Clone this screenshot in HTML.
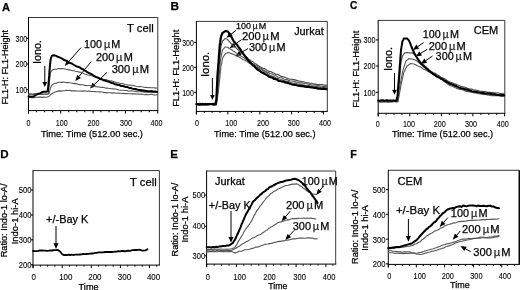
<!DOCTYPE html>
<html><head><meta charset="utf-8"><style>
html,body{margin:0;padding:0;background:#fff;}
body{width:520px;height:290px;overflow:hidden;}
svg{display:block;font-family:"Liberation Sans", sans-serif;}
text{filter:grayscale(1);stroke:#000;stroke-width:0.25px;}
text.t{stroke-width:0.1px;}
svg{filter:blur(0.3px);}
</style></head><body>
<svg width="520" height="290" viewBox="0 0 520 290">
<rect width="520" height="290" fill="#fff"/>
<text x="2.09" y="10.55" font-size="11.07" textLength="8.00" lengthAdjust="spacingAndGlyphs" font-weight="bold" fill="#000">A</text>
<text x="170.61" y="9.80" font-size="11.81" textLength="8.53" lengthAdjust="spacingAndGlyphs" font-weight="bold" fill="#000">B</text>
<text x="349.89" y="9.00" font-size="10.09" textLength="7.29" lengthAdjust="spacingAndGlyphs" font-weight="bold" fill="#000">C</text>
<text x="0.33" y="158.10" font-size="11.58" textLength="8.36" lengthAdjust="spacingAndGlyphs" font-weight="bold" fill="#000">D</text>
<text x="170.32" y="158.10" font-size="11.59" textLength="7.73" lengthAdjust="spacingAndGlyphs" font-weight="bold" fill="#000">E</text>
<text x="350.37" y="157.90" font-size="10.84" textLength="6.62" lengthAdjust="spacingAndGlyphs" font-weight="bold" fill="#000">F</text>
<line x1="28.50" y1="17.50" x2="157.80" y2="17.50" stroke="#383838" stroke-width="1"/>
<line x1="157.80" y1="17.50" x2="157.80" y2="110.60" stroke="#383838" stroke-width="1"/>
<line x1="28.50" y1="17.00" x2="28.50" y2="113.60" stroke="#000" stroke-width="1"/>
<line x1="28.00" y1="110.60" x2="158.30" y2="110.60" stroke="#000" stroke-width="1"/>
<line x1="26.20" y1="38.30" x2="28.50" y2="38.30" stroke="#000" stroke-width="1"/>
<text x="27.28" y="41.58" font-size="8.40" text-anchor="end" fill="#000" class="t" textLength="11.84" lengthAdjust="spacingAndGlyphs">300</text>
<line x1="26.20" y1="64.00" x2="28.50" y2="64.00" stroke="#000" stroke-width="1"/>
<text x="27.28" y="67.28" font-size="8.40" text-anchor="end" fill="#000" class="t" textLength="11.84" lengthAdjust="spacingAndGlyphs">200</text>
<line x1="26.20" y1="89.70" x2="28.50" y2="89.70" stroke="#000" stroke-width="1"/>
<text x="27.28" y="92.98" font-size="8.40" text-anchor="end" fill="#000" class="t" textLength="11.84" lengthAdjust="spacingAndGlyphs">100</text>
<line x1="28.50" y1="110.60" x2="28.50" y2="113.60" stroke="#000" stroke-width="1"/>
<text x="28.60" y="126.00" font-size="8.40" text-anchor="middle" fill="#000" class="t" textLength="4.00" lengthAdjust="spacingAndGlyphs">0</text>
<line x1="60.70" y1="110.60" x2="60.70" y2="113.60" stroke="#000" stroke-width="1"/>
<text x="61.70" y="126.00" font-size="8.40" text-anchor="middle" fill="#000" class="t" textLength="12.01" lengthAdjust="spacingAndGlyphs">100</text>
<line x1="93.10" y1="110.60" x2="93.10" y2="113.60" stroke="#000" stroke-width="1"/>
<text x="93.50" y="126.00" font-size="8.40" text-anchor="middle" fill="#000" class="t" textLength="12.01" lengthAdjust="spacingAndGlyphs">200</text>
<line x1="125.50" y1="110.60" x2="125.50" y2="113.60" stroke="#000" stroke-width="1"/>
<text x="126.10" y="126.00" font-size="8.40" text-anchor="middle" fill="#000" class="t" textLength="12.01" lengthAdjust="spacingAndGlyphs">300</text>
<line x1="157.70" y1="110.60" x2="157.70" y2="113.60" stroke="#000" stroke-width="1"/>
<text x="156.40" y="126.00" font-size="8.40" text-anchor="middle" fill="#000" class="t" textLength="12.01" lengthAdjust="spacingAndGlyphs">400</text>
<line x1="36.55" y1="110.60" x2="36.55" y2="112.20" stroke="#000" stroke-width="1"/>
<line x1="44.60" y1="110.60" x2="44.60" y2="112.20" stroke="#000" stroke-width="1"/>
<line x1="52.65" y1="110.60" x2="52.65" y2="112.20" stroke="#000" stroke-width="1"/>
<line x1="68.75" y1="110.60" x2="68.75" y2="112.20" stroke="#000" stroke-width="1"/>
<line x1="76.80" y1="110.60" x2="76.80" y2="112.20" stroke="#000" stroke-width="1"/>
<line x1="84.85" y1="110.60" x2="84.85" y2="112.20" stroke="#000" stroke-width="1"/>
<line x1="100.95" y1="110.60" x2="100.95" y2="112.20" stroke="#000" stroke-width="1"/>
<line x1="109.00" y1="110.60" x2="109.00" y2="112.20" stroke="#000" stroke-width="1"/>
<line x1="117.05" y1="110.60" x2="117.05" y2="112.20" stroke="#000" stroke-width="1"/>
<line x1="133.15" y1="110.60" x2="133.15" y2="112.20" stroke="#000" stroke-width="1"/>
<line x1="141.20" y1="110.60" x2="141.20" y2="112.20" stroke="#000" stroke-width="1"/>
<line x1="149.25" y1="110.60" x2="149.25" y2="112.20" stroke="#000" stroke-width="1"/>
<text x="8.35" y="104.44" font-size="9.00" textLength="74.50" lengthAdjust="spacingAndGlyphs" transform="rotate(-90 8.35 104.44)" fill="#000">FL1-H: FL1-Height</text>
<text x="40.89" y="137.20" font-size="9.80" textLength="102.08" lengthAdjust="spacingAndGlyphs" fill="#000">Time: Time (512.00 sec.)</text>
<text x="127.05" y="32.20" font-size="11.13" textLength="26.59" lengthAdjust="spacingAndGlyphs" fill="#000">T cell</text>
<text x="41.45" y="64.09" font-size="10.78" textLength="23.98" lengthAdjust="spacingAndGlyphs" transform="rotate(-90 41.45 64.09)" fill="#000">Iono.</text>
<line x1="44.80" y1="66.00" x2="44.80" y2="82.50" stroke="#000" stroke-width="1"/>
<polygon points="44.80,87.00 42.40,82.00 47.20,82.00" fill="#000"/>
<text x="84.08" y="47.90" font-size="10.82" textLength="36.31" lengthAdjust="spacingAndGlyphs" fill="#000">100 <tspan dx="-1.2" fill="#3a3a3a">µ</tspan><tspan dx="1.2">M</tspan></text>
<text x="95.95" y="61.20" font-size="10.98" textLength="36.85" lengthAdjust="spacingAndGlyphs" fill="#000">200 <tspan dx="-1.2" fill="#3a3a3a">µ</tspan><tspan dx="1.2">M</tspan></text>
<text x="111.68" y="72.90" font-size="11.16" textLength="37.44" lengthAdjust="spacingAndGlyphs" fill="#000">300 <tspan dx="-1.2" fill="#3a3a3a">µ</tspan><tspan dx="1.2">M</tspan></text>
<line x1="81.00" y1="47.60" x2="68.35" y2="61.88" stroke="#000" stroke-width="1"/>
<polygon points="64.70,66.00 66.88,59.92 70.48,63.10" fill="#000"/>
<line x1="91.20" y1="61.60" x2="78.79" y2="76.75" stroke="#000" stroke-width="1"/>
<polygon points="75.30,81.00 77.25,74.84 80.96,77.88" fill="#000"/>
<line x1="106.90" y1="72.50" x2="93.89" y2="84.82" stroke="#000" stroke-width="1"/>
<polygon points="89.90,88.60 92.61,82.73 95.91,86.22" fill="#000"/>
<polyline points="28.5,94.2 30.1,94.1 31.8,94.2 33.4,94.4 35.1,94.1 36.7,94.1 38.4,94.1 40.0,94.0 41.5,93.9 43.0,94.2 44.5,94.3 46.0,94.3 48.5,94.0 48.6,92.6 48.7,90.6 48.8,89.2 48.9,87.5 49.1,86.4 49.2,84.8 49.3,82.8 49.4,81.8 49.5,80.0 49.7,78.8 49.9,77.1 50.1,75.6 50.3,73.8 50.5,72.5 52.0,70.2 53.5,69.5 55.0,69.3 56.7,69.1 58.3,68.6 60.0,68.6 61.5,68.6 63.0,68.8 64.5,68.8 66.0,69.3 67.7,69.6 69.3,69.9 71.0,70.2 72.5,70.7 74.0,70.8 75.5,71.2 77.0,71.5 78.5,71.9 80.0,72.1 81.5,72.6 83.0,73.1 84.5,74.0 86.0,74.3 87.5,75.0 89.0,75.2 90.5,75.5 92.0,75.7 93.5,76.0 95.0,76.5 96.7,76.9 98.3,77.2 100.0,78.2 101.7,78.4 103.3,79.2 105.0,79.5 106.7,79.8 108.3,80.6 110.0,81.0 111.7,80.9 113.3,81.4 115.0,82.0 116.7,82.7 118.3,82.8 120.0,83.5 121.7,83.6 123.3,83.8 125.0,84.5 126.7,84.8 128.3,85.2 130.0,85.1 131.7,85.3 133.3,85.6 135.0,86.0 136.7,86.5 138.3,86.7 140.0,86.5 141.7,86.8 143.3,87.0 145.0,87.5 146.5,87.3 148.0,87.8 149.5,87.5 151.0,87.8 152.5,87.8 154.0,87.7 155.5,88.1 157.0,88.0" fill="none" stroke="#555" stroke-width="1.1" stroke-linejoin="round" stroke-linecap="round"/>
<polyline points="28.5,94.0 30.1,94.0 31.7,94.1 33.3,94.2 34.9,93.9 36.5,93.8 38.0,94.0 39.6,94.0 41.2,94.3 42.8,94.3 44.4,94.2 46.0,94.2 47.5,93.9 49.0,93.5 49.5,91.8 50.0,89.6 50.5,88.0 51.2,86.5 52.0,85.0 53.5,83.9 55.0,83.2 56.7,83.1 58.3,82.3 60.0,82.2 61.7,82.4 63.3,82.0 65.0,82.3 66.7,82.6 68.3,82.5 70.0,82.8 71.7,83.0 73.3,83.6 75.0,83.4 76.7,83.7 78.3,84.5 80.0,84.6 81.6,84.8 83.2,84.7 84.8,85.4 86.4,85.6 88.0,85.5 89.8,85.5 91.5,86.0 93.2,86.0 95.0,86.5 96.5,86.6 98.0,87.0 99.5,86.9 101.0,87.4 102.5,87.2 104.0,87.5 105.5,88.1 107.0,88.0 108.5,88.3 110.0,88.5 111.5,88.8 113.0,88.9 114.5,89.0 116.0,89.0 117.5,89.6 119.0,90.0 120.5,90.2 122.0,90.2 123.5,90.2 125.0,90.5 126.5,90.5 128.0,90.9 129.5,91.0 131.0,90.8 132.5,91.0 134.0,91.2 135.5,91.4 137.0,91.7 138.5,91.7 140.0,91.8 141.5,91.6 143.1,92.1 144.6,91.9 146.2,92.1 147.7,92.0 149.3,92.1 150.8,92.2 152.4,92.5 153.9,92.1 155.5,92.5 157.0,92.5" fill="none" stroke="#555" stroke-width="1.1" stroke-linejoin="round" stroke-linecap="round"/>
<polyline points="28.5,97.5 30.0,97.3 31.5,97.6 33.0,97.5 34.5,97.6 36.0,97.2 37.5,97.2 39.0,97.1 40.5,97.1 42.0,97.4 43.5,97.0 45.0,97.2 46.5,97.2 49.0,96.5 51.0,94.3 52.5,93.2 54.0,92.5 56.0,91.7 58.0,91.1 59.8,90.9 61.5,91.1 63.2,90.8 65.0,90.6 66.7,90.3 68.3,90.5 70.0,90.4 71.7,90.9 73.3,90.9 75.0,90.7 76.6,90.9 78.2,91.0 79.9,91.0 81.5,91.1 83.1,91.1 84.8,90.8 86.4,91.2 88.0,91.0 89.8,91.1 91.5,91.5 93.2,91.5 95.0,91.6 96.5,91.7 98.0,91.8 99.5,91.9 101.0,92.0 102.5,92.0 104.0,92.5 105.5,92.6 107.0,92.9 108.5,92.8 110.0,92.8 111.5,92.9 113.0,93.1 114.5,92.8 116.0,93.2 117.5,93.2 119.0,93.1 120.5,93.2 122.0,93.5 123.5,93.4 125.0,93.6 126.5,93.6 128.0,93.8 129.5,93.7 131.0,93.7 132.5,93.9 134.0,93.9 135.5,93.9 137.0,94.0 138.5,94.1 140.0,94.3 141.5,94.1 143.1,94.5 144.6,94.7 146.2,94.4 147.7,94.7 149.3,94.8 150.8,94.3 152.4,94.4 153.9,94.9 155.5,95.0 157.0,94.8" fill="none" stroke="#555" stroke-width="1.1" stroke-linejoin="round" stroke-linecap="round"/>
<polyline points="28.5,96.8 30.0,96.4 31.5,96.7 33.0,96.5 34.5,95.9 36.0,95.0 38.5,93.6 40.5,93.1 42.5,92.0 44.2,91.7 46.0,91.8 47.7,91.3 47.9,89.3 48.1,87.8 48.3,85.9 48.5,84.0 48.6,82.2 48.8,80.8 48.9,78.9 49.0,77.5 49.2,75.4 49.3,74.0 49.4,72.3 49.5,71.3 49.6,69.4 49.8,67.8 49.9,66.7 50.0,65.0 50.2,63.5 50.4,61.5 50.6,60.2 50.8,58.5 51.8,56.0 52.9,55.2 54.5,55.4 56.0,55.8 58.0,56.8 60.0,57.6 61.7,58.3 63.3,59.5 65.0,60.3 66.7,60.9 68.3,62.0 70.0,63.0 71.7,63.5 73.3,64.5 75.0,65.5 76.7,66.5 78.3,66.8 80.0,67.5 81.5,68.8 83.0,69.3 84.5,70.4 86.0,71.2 87.3,72.2 88.7,72.9 90.0,73.5 91.7,74.2 93.3,75.6 95.0,76.5 96.7,77.4 98.3,77.9 100.0,79.0 101.7,79.2 103.3,80.3 105.0,80.5 106.8,81.2 108.7,81.6 110.5,82.5 112.0,83.0 113.5,83.3 115.0,84.2 116.5,84.5 118.0,85.0 119.6,85.1 121.2,86.1 122.8,86.0 124.4,86.5 126.0,87.1 127.6,87.1 129.2,88.0 130.8,88.0 132.4,88.6 134.0,89.0 135.5,89.0 137.0,89.5 138.5,89.9 140.0,90.1 141.5,90.3 143.2,90.5 144.9,90.7 146.6,90.9 148.3,91.2 150.0,91.3 151.8,91.1 153.5,91.5 155.2,91.5 157.0,91.8" fill="none" stroke="#000" stroke-width="2" stroke-linejoin="round" stroke-linecap="round"/>
<line x1="196.40" y1="21.40" x2="327.30" y2="21.40" stroke="#383838" stroke-width="1"/>
<line x1="327.30" y1="21.40" x2="327.30" y2="111.40" stroke="#383838" stroke-width="1"/>
<line x1="196.40" y1="20.90" x2="196.40" y2="114.40" stroke="#000" stroke-width="1"/>
<line x1="195.90" y1="111.40" x2="327.80" y2="111.40" stroke="#000" stroke-width="1"/>
<line x1="194.10" y1="42.40" x2="196.40" y2="42.40" stroke="#000" stroke-width="1"/>
<text x="193.77" y="45.83" font-size="8.40" text-anchor="end" fill="#000" class="t" textLength="11.51" lengthAdjust="spacingAndGlyphs">300</text>
<line x1="194.10" y1="67.40" x2="196.40" y2="67.40" stroke="#000" stroke-width="1"/>
<text x="193.77" y="70.83" font-size="8.40" text-anchor="end" fill="#000" class="t" textLength="11.51" lengthAdjust="spacingAndGlyphs">200</text>
<line x1="194.10" y1="92.30" x2="196.40" y2="92.30" stroke="#000" stroke-width="1"/>
<text x="193.77" y="95.73" font-size="8.40" text-anchor="end" fill="#000" class="t" textLength="11.51" lengthAdjust="spacingAndGlyphs">100</text>
<line x1="196.40" y1="111.40" x2="196.40" y2="114.40" stroke="#000" stroke-width="1"/>
<text x="196.90" y="126.00" font-size="8.40" text-anchor="middle" fill="#000" class="t" textLength="4.00" lengthAdjust="spacingAndGlyphs">0</text>
<line x1="227.80" y1="111.40" x2="227.80" y2="114.40" stroke="#000" stroke-width="1"/>
<text x="231.20" y="126.00" font-size="8.40" text-anchor="middle" fill="#000" class="t" textLength="12.01" lengthAdjust="spacingAndGlyphs">100</text>
<line x1="259.80" y1="111.40" x2="259.80" y2="114.40" stroke="#000" stroke-width="1"/>
<text x="263.10" y="126.00" font-size="8.40" text-anchor="middle" fill="#000" class="t" textLength="12.01" lengthAdjust="spacingAndGlyphs">200</text>
<line x1="291.60" y1="111.40" x2="291.60" y2="114.40" stroke="#000" stroke-width="1"/>
<text x="293.70" y="126.00" font-size="8.40" text-anchor="middle" fill="#000" class="t" textLength="12.01" lengthAdjust="spacingAndGlyphs">300</text>
<line x1="323.50" y1="111.40" x2="323.50" y2="114.40" stroke="#000" stroke-width="1"/>
<text x="324.90" y="126.00" font-size="8.40" text-anchor="middle" fill="#000" class="t" textLength="12.01" lengthAdjust="spacingAndGlyphs">400</text>
<line x1="204.25" y1="111.40" x2="204.25" y2="113.00" stroke="#000" stroke-width="1"/>
<line x1="212.10" y1="111.40" x2="212.10" y2="113.00" stroke="#000" stroke-width="1"/>
<line x1="219.95" y1="111.40" x2="219.95" y2="113.00" stroke="#000" stroke-width="1"/>
<line x1="235.65" y1="111.40" x2="235.65" y2="113.00" stroke="#000" stroke-width="1"/>
<line x1="243.50" y1="111.40" x2="243.50" y2="113.00" stroke="#000" stroke-width="1"/>
<line x1="251.35" y1="111.40" x2="251.35" y2="113.00" stroke="#000" stroke-width="1"/>
<line x1="267.05" y1="111.40" x2="267.05" y2="113.00" stroke="#000" stroke-width="1"/>
<line x1="274.90" y1="111.40" x2="274.90" y2="113.00" stroke="#000" stroke-width="1"/>
<line x1="282.75" y1="111.40" x2="282.75" y2="113.00" stroke="#000" stroke-width="1"/>
<line x1="298.45" y1="111.40" x2="298.45" y2="113.00" stroke="#000" stroke-width="1"/>
<line x1="306.30" y1="111.40" x2="306.30" y2="113.00" stroke="#000" stroke-width="1"/>
<line x1="314.15" y1="111.40" x2="314.15" y2="113.00" stroke="#000" stroke-width="1"/>
<line x1="322.00" y1="111.40" x2="322.00" y2="113.00" stroke="#000" stroke-width="1"/>
<text x="178.95" y="106.86" font-size="9.31" textLength="77.13" lengthAdjust="spacingAndGlyphs" transform="rotate(-90 178.95 106.86)" fill="#000">FL1-H: FL1-Height</text>
<text x="214.10" y="137.20" font-size="9.80" textLength="101.37" lengthAdjust="spacingAndGlyphs" fill="#000">Time: Time (512.00 sec.)</text>
<text x="294.13" y="34.80" font-size="10.89" textLength="29.65" lengthAdjust="spacingAndGlyphs" fill="#000">Jurkat</text>
<text x="208.95" y="77.04" font-size="11.32" textLength="25.18" lengthAdjust="spacingAndGlyphs" transform="rotate(-90 208.95 77.04)" fill="#000">Iono.</text>
<line x1="212.40" y1="78.00" x2="212.40" y2="95.50" stroke="#000" stroke-width="1"/>
<polygon points="212.40,100.00 210.10,95.00 214.70,95.00" fill="#000"/>
<text x="236.12" y="29.20" font-size="9.90" textLength="30.12" lengthAdjust="spacingAndGlyphs" fill="#000">100 <tspan dx="-1.2" fill="#3a3a3a">µ</tspan><tspan dx="1.2">M</tspan></text>
<text x="241.94" y="40.10" font-size="11.23" textLength="37.69" lengthAdjust="spacingAndGlyphs" fill="#000">200 <tspan dx="-1.2" fill="#3a3a3a">µ</tspan><tspan dx="1.2">M</tspan></text>
<text x="248.88" y="50.50" font-size="10.91" textLength="36.61" lengthAdjust="spacingAndGlyphs" fill="#000">300 <tspan dx="-1.2" fill="#3a3a3a">µ</tspan><tspan dx="1.2">M</tspan></text>
<line x1="236.00" y1="30.40" x2="230.76" y2="34.44" stroke="#000" stroke-width="1"/>
<polygon points="226.40,37.80 229.69,32.24 232.62,36.04" fill="#000"/>
<line x1="241.60" y1="39.60" x2="234.07" y2="45.00" stroke="#000" stroke-width="1"/>
<polygon points="229.60,48.20 233.08,42.75 235.87,46.66" fill="#000"/>
<line x1="248.00" y1="48.50" x2="240.00" y2="53.35" stroke="#000" stroke-width="1"/>
<polygon points="235.30,56.20 239.19,51.04 241.67,55.14" fill="#000"/>
<polyline points="196.4,103.5 197.9,103.8 199.4,103.2 200.9,103.6 202.4,103.3 203.9,103.8 205.4,103.2 207.0,103.7 208.5,103.6 210.0,103.7 211.5,103.8 213.0,103.3 214.5,103.4 216.0,103.5 216.2,102.1 216.3,100.4 216.5,98.9 216.7,97.3 216.8,96.2 217.0,94.7 217.2,93.2 217.3,91.3 217.5,90.0 217.6,88.8 217.7,87.0 217.8,85.3 217.9,84.0 218.0,82.5 218.1,80.7 218.2,79.5 218.3,77.9 218.4,76.5 218.5,75.3 218.6,73.6 218.7,71.9 218.8,70.7 218.9,69.3 219.0,67.5 219.1,66.3 219.2,64.2 219.3,62.8 219.4,61.3 219.5,60.0 219.7,58.7 219.8,57.0 220.0,55.5 220.2,53.6 220.3,52.2 220.5,50.9 220.7,48.9 220.8,47.3 221.0,46.0 221.5,44.1 222.0,42.6 222.5,41.0 223.8,40.0 225.0,38.5 227.0,39.0 228.2,40.4 229.5,41.7 230.8,43.1 232.0,44.5 233.1,45.3 234.3,46.8 235.4,47.4 236.6,48.3 237.7,49.4 238.9,50.7 240.0,51.5 241.2,52.5 242.5,53.9 243.8,54.6 245.0,55.7 246.2,56.6 247.5,58.1 248.8,59.1 250.0,60.0 251.2,60.9 252.5,61.5 253.8,62.6 255.0,63.5 256.7,64.5 258.3,65.8 260.0,66.7 261.4,67.6 262.9,68.2 264.3,68.6 265.7,69.2 267.1,70.4 268.6,71.1 270.0,71.5 271.4,71.9 272.9,72.7 274.3,73.3 275.7,74.2 277.1,74.2 278.6,74.8 280.0,75.7 281.4,76.4 282.9,76.7 284.3,77.1 285.7,77.8 287.1,78.2 288.6,78.7 290.0,79.1 291.7,79.3 293.3,79.6 295.0,79.9 296.7,80.4 298.3,80.9 300.0,81.2 301.7,81.5 303.3,81.8 305.0,82.3 306.7,82.7 308.3,82.9 310.0,83.2 311.7,83.3 313.3,83.9 315.0,84.1 316.7,84.4 318.3,84.6 320.0,84.6 321.8,84.5 323.5,85.1 325.2,85.0 327.0,85.3" fill="none" stroke="#444" stroke-width="1.1" stroke-linejoin="round" stroke-linecap="round"/>
<polyline points="196.4,104.8 197.9,104.7 199.4,104.7 200.9,104.7 202.4,104.7 203.9,104.6 205.4,104.8 207.0,104.5 208.5,104.7 210.0,104.3 211.5,104.5 213.0,104.4 214.5,104.3 216.0,104.5 216.2,103.0 216.4,101.2 216.7,99.8 216.9,98.3 217.1,96.3 217.3,95.1 217.6,93.4 217.8,91.7 218.0,90.0 218.1,88.2 218.2,87.0 218.4,85.6 218.5,83.9 218.6,82.3 218.8,80.9 218.9,79.4 219.0,78.2 219.1,76.4 219.2,75.0 219.4,73.6 219.5,72.3 219.6,70.4 219.8,68.7 219.9,67.8 220.0,66.2 220.1,64.7 220.2,63.0 220.4,61.3 220.5,60.0 220.8,58.1 221.2,56.5 221.5,55.0 221.8,53.1 222.2,51.8 222.5,50.0 223.8,48.6 225.0,47.0 226.5,47.0 228.0,47.5 229.3,48.5 230.7,49.2 232.0,50.0 233.3,51.2 234.7,51.8 236.0,52.9 237.3,53.6 238.7,54.7 240.0,55.5 241.4,56.4 242.9,57.1 244.3,58.1 245.7,59.1 247.1,60.1 248.6,61.0 250.0,62.0 251.7,63.0 253.3,64.1 255.0,65.0 256.7,65.9 258.3,66.8 260.0,67.8 261.4,68.6 262.9,69.7 264.3,70.4 265.7,71.2 267.1,72.1 268.6,72.5 270.0,73.5 271.4,73.8 272.9,74.4 274.3,75.0 275.7,75.5 277.1,76.4 278.6,77.2 280.0,77.5 281.4,77.7 282.9,78.6 284.3,79.2 285.7,79.5 287.1,79.6 288.6,80.4 290.0,80.8 291.7,81.0 293.3,81.3 295.0,81.6 296.7,82.2 298.3,82.8 300.0,82.9 301.7,82.9 303.3,83.3 305.0,83.7 306.7,83.8 308.3,84.3 310.0,84.6 311.7,85.0 313.3,85.0 315.0,85.0 316.7,85.3 318.3,85.6 320.0,86.0 321.8,86.3 323.5,86.6 325.2,86.5 327.0,86.7" fill="none" stroke="#555" stroke-width="1.1" stroke-linejoin="round" stroke-linecap="round"/>
<polyline points="196.4,105.0 197.9,105.0 199.5,105.2 201.0,105.3 202.6,104.9 204.1,105.2 205.7,105.1 207.2,105.1 208.8,104.8 210.3,104.7 211.9,104.9 213.4,105.1 215.0,104.9 216.5,105.0 216.7,103.5 216.9,101.9 217.1,100.7 217.3,99.3 217.5,97.4 217.7,96.3 217.9,94.2 218.1,93.2 218.3,91.7 218.5,90.0 218.7,88.3 218.8,87.1 219.0,85.5 219.1,84.3 219.3,82.3 219.4,81.0 219.6,79.7 219.8,78.1 219.9,76.4 220.1,74.7 220.2,73.8 220.4,72.0 220.5,70.8 220.7,68.8 220.8,67.7 221.0,66.0 221.3,64.7 221.7,63.3 222.0,61.2 222.3,59.9 222.7,58.2 223.0,57.0 224.2,55.4 225.5,53.5 227.2,52.9 229.0,52.5 230.5,53.4 232.0,53.7 233.5,54.5 235.0,55.0 236.7,56.1 238.3,56.5 240.0,57.5 241.4,58.4 242.9,59.5 244.3,60.1 245.7,60.8 247.1,61.6 248.6,62.8 250.0,63.5 251.7,64.3 253.3,65.6 255.0,66.5 256.7,67.3 258.3,68.1 260.0,68.8 261.4,69.5 262.9,70.7 264.3,71.8 265.7,72.3 267.1,73.3 268.6,74.5 270.0,75.2 271.4,75.8 272.9,76.2 274.3,76.7 275.7,77.7 277.1,78.0 278.6,78.7 280.0,79.3 281.7,79.7 283.3,80.4 285.0,80.9 286.7,81.2 288.3,81.5 290.0,82.3 291.7,82.9 293.3,83.2 295.0,83.1 296.7,83.7 298.3,84.2 300.0,84.4 301.7,84.6 303.3,85.0 305.0,85.4 306.7,85.5 308.3,85.6 310.0,85.9 311.7,86.0 313.3,86.2 315.0,86.4 316.7,86.6 318.3,86.9 320.0,87.3 321.8,87.7 323.5,87.6 325.2,87.9 327.0,87.9" fill="none" stroke="#555" stroke-width="1.1" stroke-linejoin="round" stroke-linecap="round"/>
<polyline points="196.4,104.2 198.0,104.0 199.6,104.3 201.2,104.1 202.8,104.0 204.4,104.2 205.9,104.2 207.5,104.2 209.1,104.2 210.7,104.0 212.3,104.0 213.9,104.3 215.5,104.2 215.9,102.0 216.3,100.0 216.4,98.6 216.5,97.1 216.5,95.6 216.6,94.1 216.7,92.0 216.8,90.4 216.8,89.2 216.9,87.6 217.0,85.7 217.1,84.5 217.1,83.1 217.2,81.5 217.3,79.5 217.3,78.0 217.4,76.2 217.5,75.0 217.6,73.8 217.7,71.7 217.9,70.5 218.0,68.8 218.1,67.3 218.2,65.7 218.3,64.4 218.5,62.7 218.6,60.9 218.7,59.5 218.8,57.7 218.9,56.4 219.0,55.2 219.1,53.1 219.3,52.0 219.4,50.4 219.5,48.5 219.6,47.0 219.7,45.7 219.9,44.1 220.2,42.2 220.4,40.5 220.7,38.8 220.9,37.1 221.7,34.8 222.5,33.0 223.8,32.1 225.2,31.0 228.0,31.5 229.2,33.3 230.4,35.0 231.1,36.4 231.9,37.6 232.6,39.3 233.3,40.5 234.4,42.1 235.5,43.3 236.6,44.4 237.7,45.8 238.8,47.4 239.7,48.5 240.6,49.7 241.6,51.4 242.5,52.6 243.4,53.7 244.3,55.2 245.4,56.8 246.5,58.0 247.6,59.5 248.7,60.9 249.8,62.0 250.9,63.2 252.0,64.2 253.1,65.6 254.2,66.1 255.3,67.5 256.6,68.6 258.0,69.8 259.3,70.5 260.7,71.7 262.0,72.5 263.3,73.0 264.7,73.9 266.0,74.6 267.3,75.4 268.7,76.4 270.0,77.0 271.4,77.3 272.9,78.0 274.3,79.0 275.7,79.1 277.1,79.6 278.6,80.8 280.0,81.0 281.7,81.5 283.3,81.6 285.0,82.4 286.7,82.6 288.3,83.1 290.0,83.8 291.7,84.3 293.3,84.6 295.0,84.8 296.7,85.2 298.3,85.6 300.0,85.9 301.7,86.1 303.3,86.1 305.0,86.7 306.7,87.0 308.3,86.9 310.0,87.2 311.7,87.4 313.3,87.7 315.0,87.9 316.7,88.1 318.3,88.6 320.0,88.6 321.6,89.0 323.2,88.7 324.9,88.8 326.5,89.2" fill="none" stroke="#000" stroke-width="2.2" stroke-linejoin="round" stroke-linecap="round"/>
<line x1="378.20" y1="20.40" x2="504.80" y2="20.40" stroke="#383838" stroke-width="1"/>
<line x1="504.80" y1="20.40" x2="504.80" y2="113.30" stroke="#383838" stroke-width="1"/>
<line x1="378.20" y1="19.90" x2="378.20" y2="116.30" stroke="#000" stroke-width="1"/>
<line x1="377.70" y1="113.30" x2="505.30" y2="113.30" stroke="#000" stroke-width="1"/>
<line x1="375.90" y1="39.90" x2="378.20" y2="39.90" stroke="#000" stroke-width="1"/>
<text x="375.48" y="43.13" font-size="8.40" text-anchor="end" fill="#000" class="t" textLength="12.01" lengthAdjust="spacingAndGlyphs">300</text>
<line x1="375.90" y1="66.00" x2="378.20" y2="66.00" stroke="#000" stroke-width="1"/>
<text x="375.48" y="69.23" font-size="8.40" text-anchor="end" fill="#000" class="t" textLength="12.01" lengthAdjust="spacingAndGlyphs">200</text>
<line x1="375.90" y1="92.30" x2="378.20" y2="92.30" stroke="#000" stroke-width="1"/>
<text x="375.48" y="95.53" font-size="8.40" text-anchor="end" fill="#000" class="t" textLength="12.01" lengthAdjust="spacingAndGlyphs">100</text>
<line x1="378.20" y1="113.30" x2="378.20" y2="116.30" stroke="#000" stroke-width="1"/>
<text x="377.80" y="127.00" font-size="8.40" text-anchor="middle" fill="#000" class="t" textLength="4.00" lengthAdjust="spacingAndGlyphs">0</text>
<line x1="409.80" y1="113.30" x2="409.80" y2="116.30" stroke="#000" stroke-width="1"/>
<text x="408.90" y="127.00" font-size="8.40" text-anchor="middle" fill="#000" class="t" textLength="12.01" lengthAdjust="spacingAndGlyphs">100</text>
<line x1="441.40" y1="113.30" x2="441.40" y2="116.30" stroke="#000" stroke-width="1"/>
<text x="439.80" y="127.00" font-size="8.40" text-anchor="middle" fill="#000" class="t" textLength="12.01" lengthAdjust="spacingAndGlyphs">200</text>
<line x1="472.90" y1="113.30" x2="472.90" y2="116.30" stroke="#000" stroke-width="1"/>
<text x="471.00" y="127.00" font-size="8.40" text-anchor="middle" fill="#000" class="t" textLength="12.01" lengthAdjust="spacingAndGlyphs">300</text>
<line x1="504.60" y1="113.30" x2="504.60" y2="116.30" stroke="#000" stroke-width="1"/>
<text x="502.80" y="127.00" font-size="8.40" text-anchor="middle" fill="#000" class="t" textLength="12.01" lengthAdjust="spacingAndGlyphs">400</text>
<line x1="386.10" y1="113.30" x2="386.10" y2="114.90" stroke="#000" stroke-width="1"/>
<line x1="394.00" y1="113.30" x2="394.00" y2="114.90" stroke="#000" stroke-width="1"/>
<line x1="401.90" y1="113.30" x2="401.90" y2="114.90" stroke="#000" stroke-width="1"/>
<line x1="417.70" y1="113.30" x2="417.70" y2="114.90" stroke="#000" stroke-width="1"/>
<line x1="425.60" y1="113.30" x2="425.60" y2="114.90" stroke="#000" stroke-width="1"/>
<line x1="433.50" y1="113.30" x2="433.50" y2="114.90" stroke="#000" stroke-width="1"/>
<line x1="449.30" y1="113.30" x2="449.30" y2="114.90" stroke="#000" stroke-width="1"/>
<line x1="457.20" y1="113.30" x2="457.20" y2="114.90" stroke="#000" stroke-width="1"/>
<line x1="465.10" y1="113.30" x2="465.10" y2="114.90" stroke="#000" stroke-width="1"/>
<line x1="480.90" y1="113.30" x2="480.90" y2="114.90" stroke="#000" stroke-width="1"/>
<line x1="488.80" y1="113.30" x2="488.80" y2="114.90" stroke="#000" stroke-width="1"/>
<line x1="496.70" y1="113.30" x2="496.70" y2="114.90" stroke="#000" stroke-width="1"/>
<text x="359.35" y="107.76" font-size="9.30" textLength="77.03" lengthAdjust="spacingAndGlyphs" transform="rotate(-90 359.35 107.76)" fill="#000">FL1-H: FL1-Height</text>
<text x="392.00" y="137.20" font-size="9.80" textLength="101.17" lengthAdjust="spacingAndGlyphs" fill="#000">Time: Time (512.00 sec.)</text>
<text x="473.74" y="33.90" font-size="11.01" textLength="24.46" lengthAdjust="spacingAndGlyphs" fill="#000">CEM</text>
<text x="391.65" y="70.89" font-size="10.78" textLength="23.98" lengthAdjust="spacingAndGlyphs" transform="rotate(-90 391.65 70.89)" fill="#000">Iono.</text>
<line x1="394.50" y1="73.00" x2="394.50" y2="90.20" stroke="#000" stroke-width="1"/>
<polygon points="394.50,94.70 392.10,89.70 396.90,89.70" fill="#000"/>
<text x="422.68" y="37.90" font-size="10.79" textLength="36.21" lengthAdjust="spacingAndGlyphs" fill="#000">100 <tspan dx="-1.2" fill="#3a3a3a">µ</tspan><tspan dx="1.2">M</tspan></text>
<text x="428.74" y="49.80" font-size="11.05" textLength="37.06" lengthAdjust="spacingAndGlyphs" fill="#000">200 <tspan dx="-1.2" fill="#3a3a3a">µ</tspan><tspan dx="1.2">M</tspan></text>
<text x="435.59" y="60.40" font-size="10.88" textLength="36.51" lengthAdjust="spacingAndGlyphs" fill="#000">300 <tspan dx="-1.2" fill="#3a3a3a">µ</tspan><tspan dx="1.2">M</tspan></text>
<line x1="423.60" y1="42.60" x2="417.34" y2="46.89" stroke="#000" stroke-width="1"/>
<polygon points="412.80,50.00 416.34,44.55 419.16,48.67" fill="#000"/>
<line x1="427.30" y1="49.30" x2="420.30" y2="53.55" stroke="#000" stroke-width="1"/>
<polygon points="415.60,56.40 419.43,51.15 422.03,55.42" fill="#000"/>
<line x1="432.50" y1="56.00" x2="425.34" y2="60.90" stroke="#000" stroke-width="1"/>
<polygon points="420.80,64.00 424.34,58.55 427.16,62.68" fill="#000"/>
<polyline points="378.2,100.5 379.8,100.6 381.3,100.7 382.9,100.5 384.5,100.5 386.0,100.4 387.6,100.8 389.2,100.4 390.7,100.3 392.3,100.4 393.9,100.4 395.4,100.4 397.0,100.5 397.2,98.8 397.4,97.2 397.6,95.7 397.8,94.2 398.0,92.8 398.2,91.0 398.4,89.4 398.6,87.9 398.8,86.6 399.0,85.0 399.1,83.4 399.3,82.1 399.4,80.6 399.5,78.8 399.7,77.1 399.8,75.9 399.9,74.4 400.1,72.7 400.2,71.3 400.3,69.5 400.5,68.4 400.6,66.8 400.7,65.2 400.9,63.8 401.0,62.0 401.4,60.3 401.8,59.0 402.1,57.6 402.5,56.0 403.5,54.7 404.5,53.0 407.0,52.5 408.5,52.7 410.0,53.0 411.5,52.9 413.0,53.2 414.5,54.7 416.0,56.0 417.0,57.1 418.0,58.8 419.0,60.0 420.0,60.9 421.0,62.3 422.0,63.5 423.1,64.5 424.3,65.3 425.4,66.5 426.6,67.5 427.7,68.4 428.9,69.7 430.0,70.5 431.4,71.6 432.9,72.4 434.3,72.9 435.7,73.6 437.1,74.7 438.6,75.4 440.0,76.5 441.4,77.4 442.9,77.9 444.3,78.6 445.7,79.5 447.1,80.4 448.6,81.4 450.0,82.0 451.4,82.5 452.9,83.0 454.3,83.8 455.7,84.0 457.1,84.7 458.6,85.5 460.0,86.0 461.7,86.7 463.3,86.8 465.0,87.2 466.7,88.0 468.3,88.6 470.0,89.0 471.7,89.1 473.3,89.7 475.0,90.0 476.7,90.3 478.3,90.7 480.0,91.3 481.7,91.3 483.3,91.6 485.0,91.6 486.7,92.0 488.3,92.4 490.0,92.3 491.6,92.6 493.1,92.4 494.7,92.9 496.2,93.0 497.8,92.8 499.3,93.2 500.9,93.5 502.4,93.8 504.0,93.7" fill="none" stroke="#444" stroke-width="1.1" stroke-linejoin="round" stroke-linecap="round"/>
<polyline points="378.2,101.5 379.8,101.7 381.4,101.6 383.0,101.7 384.6,101.7 386.2,101.4 387.9,101.6 389.5,101.7 391.1,101.7 392.7,101.5 394.3,101.3 395.9,101.4 397.5,101.5 397.7,100.3 398.0,98.3 398.2,96.9 398.4,95.8 398.6,94.0 398.9,92.3 399.1,90.9 399.3,89.7 399.5,87.9 399.8,86.5 400.0,85.0 400.3,83.6 400.6,82.2 400.9,80.5 401.2,78.7 401.5,77.5 401.8,75.7 402.1,74.3 402.4,72.8 402.7,71.6 403.0,70.0 403.5,68.4 404.0,67.1 404.5,65.3 405.0,63.8 405.5,62.2 406.0,61.0 407.5,59.9 409.0,58.5 410.5,59.0 412.0,59.0 414.0,59.6 416.0,60.5 417.2,61.3 418.5,62.2 419.8,63.6 421.0,64.5 422.3,65.4 423.6,66.3 424.9,67.6 426.1,68.6 427.4,69.5 428.7,70.3 430.0,71.5 431.4,72.4 432.9,73.2 434.3,74.0 435.7,74.7 437.1,76.0 438.6,76.9 440.0,77.5 441.4,78.5 442.9,79.5 444.3,80.1 445.7,80.8 447.1,81.6 448.6,82.7 450.0,83.5 451.4,84.2 452.9,84.9 454.3,85.9 455.7,86.6 457.1,86.8 458.6,88.0 460.0,88.5 461.7,88.7 463.3,89.6 465.0,89.9 466.7,90.6 468.3,91.3 470.0,91.5 471.7,91.9 473.3,92.3 475.0,92.2 476.7,92.9 478.3,92.9 480.0,93.5 481.7,93.7 483.3,93.9 485.0,94.0 486.7,94.6 488.3,94.5 490.0,95.0 491.6,95.0 493.1,95.0 494.7,95.5 496.2,95.5 497.8,95.4 499.3,95.6 500.9,95.8 502.4,96.2 504.0,96.3" fill="none" stroke="#555" stroke-width="1.1" stroke-linejoin="round" stroke-linecap="round"/>
<polyline points="378.2,102.0 379.7,101.8 381.2,102.1 382.8,102.1 384.3,102.0 385.8,101.8 387.3,102.2 388.9,102.2 390.4,102.0 391.9,102.0 393.4,101.8 395.0,101.7 396.5,101.9 398.0,102.0 398.3,100.5 398.5,98.7 398.8,97.5 399.1,95.7 399.4,94.1 399.6,92.5 399.9,91.5 400.2,89.8 400.5,88.3 400.7,86.6 401.0,85.0 401.4,83.1 401.8,81.6 402.1,80.1 402.5,78.3 402.9,77.1 403.2,75.2 403.6,73.4 404.0,72.0 404.8,70.7 405.5,68.8 406.2,67.8 407.0,66.0 408.9,64.7 410.7,63.5 412.4,63.8 414.0,64.0 415.7,64.7 417.3,65.7 419.0,66.5 420.5,67.1 422.0,67.9 423.5,69.2 425.0,69.8 426.7,70.5 428.3,71.6 430.0,72.3 431.4,73.0 432.9,74.4 434.3,75.2 435.7,76.0 437.1,76.9 438.6,77.7 440.0,78.5 441.2,79.5 442.5,80.0 443.8,81.1 445.0,82.2 446.2,82.7 447.5,84.0 448.8,84.9 450.0,85.5 451.4,86.0 452.9,86.6 454.3,87.2 455.7,87.7 457.1,88.7 458.6,88.9 460.0,89.5 461.7,89.6 463.3,90.1 465.0,90.9 466.7,91.5 468.3,91.6 470.0,92.0 471.7,92.3 473.3,92.6 475.0,93.0 476.7,93.0 478.3,93.6 480.0,93.8 481.7,94.1 483.3,94.4 485.0,94.4 486.7,94.6 488.3,95.0 490.0,95.3 491.6,95.7 493.1,95.5 494.7,95.8 496.2,95.7 497.8,95.7 499.3,95.8 500.9,96.4 502.4,96.5 504.0,96.5" fill="none" stroke="#555" stroke-width="1.1" stroke-linejoin="round" stroke-linecap="round"/>
<polyline points="378.2,100.6 379.7,100.9 381.2,100.3 382.8,100.3 384.3,100.9 385.8,100.4 387.4,100.3 388.9,100.7 390.4,100.5 391.9,100.9 393.4,100.4 395.0,100.9 396.5,100.6 396.8,98.9 397.2,97.6 397.5,96.0 397.6,94.8 397.7,93.1 397.9,91.7 398.0,90.0 398.1,88.0 398.2,87.1 398.3,85.4 398.4,83.6 398.6,82.0 398.7,81.0 398.8,79.2 398.9,78.0 399.0,76.3 399.1,74.9 399.3,73.1 399.4,71.7 399.5,70.0 399.6,68.5 399.7,66.8 399.8,65.7 400.0,63.7 400.1,62.5 400.2,61.1 400.3,59.3 400.4,57.4 400.5,56.4 400.7,54.7 400.8,52.9 400.9,51.2 401.0,50.0 401.3,48.3 401.6,46.3 401.8,45.2 402.1,43.2 402.4,41.5 403.1,40.1 403.8,38.6 405.5,38.5 407.2,38.6 409.0,40.5 409.8,42.4 410.5,44.0 411.1,45.8 411.6,46.9 412.2,48.6 413.1,50.5 414.0,52.5 414.9,54.2 415.7,55.8 416.9,57.5 418.0,59.5 419.0,60.9 419.9,62.2 420.9,63.5 422.2,64.7 423.5,66.1 424.9,67.3 426.2,68.5 427.6,69.3 429.0,71.0 430.3,71.7 431.7,72.9 433.1,74.0 434.5,74.7 435.9,75.9 437.2,76.7 438.6,77.2 440.0,78.0 441.4,78.8 442.9,79.4 444.3,80.8 445.7,81.1 447.1,82.2 448.6,82.9 450.0,83.8 451.4,84.3 452.9,84.8 454.3,85.3 455.7,85.8 457.1,86.7 458.6,87.4 460.0,87.8 461.7,88.4 463.3,88.5 465.0,89.3 466.7,89.3 468.3,90.0 470.0,90.5 471.7,91.1 473.3,91.5 475.0,91.5 476.7,92.1 478.3,92.2 480.0,92.5 481.7,92.7 483.3,93.0 485.0,93.5 486.7,93.5 488.3,93.6 490.0,93.8 491.6,94.1 493.2,94.2 494.8,94.2 496.4,94.7 497.9,94.9 499.5,94.9 501.1,95.3 502.7,94.8 504.3,95.3" fill="none" stroke="#000" stroke-width="2" stroke-linejoin="round" stroke-linecap="round"/>
<line x1="33.00" y1="170.60" x2="159.40" y2="170.60" stroke="#383838" stroke-width="1"/>
<line x1="159.40" y1="170.60" x2="159.40" y2="265.10" stroke="#383838" stroke-width="1"/>
<line x1="33.00" y1="170.10" x2="33.00" y2="268.10" stroke="#000" stroke-width="1"/>
<line x1="32.50" y1="265.10" x2="159.90" y2="265.10" stroke="#000" stroke-width="1"/>
<line x1="30.70" y1="190.00" x2="33.00" y2="190.00" stroke="#000" stroke-width="1"/>
<text x="31.60" y="192.93" font-size="8.40" text-anchor="end" fill="#000" class="t" textLength="12.84" lengthAdjust="spacingAndGlyphs">500</text>
<line x1="30.70" y1="215.00" x2="33.00" y2="215.00" stroke="#000" stroke-width="1"/>
<text x="31.60" y="217.93" font-size="8.40" text-anchor="end" fill="#000" class="t" textLength="12.84" lengthAdjust="spacingAndGlyphs">400</text>
<line x1="30.70" y1="239.80" x2="33.00" y2="239.80" stroke="#000" stroke-width="1"/>
<text x="31.60" y="242.73" font-size="8.40" text-anchor="end" fill="#000" class="t" textLength="12.84" lengthAdjust="spacingAndGlyphs">300</text>
<line x1="30.70" y1="264.80" x2="33.00" y2="264.80" stroke="#000" stroke-width="1"/>
<text x="31.60" y="267.73" font-size="8.40" text-anchor="end" fill="#000" class="t" textLength="12.84" lengthAdjust="spacingAndGlyphs">200</text>
<line x1="33.10" y1="265.10" x2="33.10" y2="268.10" stroke="#000" stroke-width="1"/>
<text x="33.80" y="280.00" font-size="8.40" text-anchor="middle" fill="#000" class="t" textLength="4.45" lengthAdjust="spacingAndGlyphs">0</text>
<line x1="62.20" y1="265.10" x2="62.20" y2="268.10" stroke="#000" stroke-width="1"/>
<text x="65.80" y="280.00" font-size="8.40" text-anchor="middle" fill="#000" class="t" textLength="13.34" lengthAdjust="spacingAndGlyphs">100</text>
<line x1="91.30" y1="265.10" x2="91.30" y2="268.10" stroke="#000" stroke-width="1"/>
<text x="94.90" y="280.00" font-size="8.40" text-anchor="middle" fill="#000" class="t" textLength="13.34" lengthAdjust="spacingAndGlyphs">200</text>
<line x1="120.40" y1="265.10" x2="120.40" y2="268.10" stroke="#000" stroke-width="1"/>
<text x="124.50" y="280.00" font-size="8.40" text-anchor="middle" fill="#000" class="t" textLength="13.34" lengthAdjust="spacingAndGlyphs">300</text>
<line x1="149.50" y1="265.10" x2="149.50" y2="268.10" stroke="#000" stroke-width="1"/>
<text x="153.60" y="280.00" font-size="8.40" text-anchor="middle" fill="#000" class="t" textLength="13.34" lengthAdjust="spacingAndGlyphs">400</text>
<line x1="40.38" y1="265.10" x2="40.38" y2="266.70" stroke="#000" stroke-width="1"/>
<line x1="47.65" y1="265.10" x2="47.65" y2="266.70" stroke="#000" stroke-width="1"/>
<line x1="54.92" y1="265.10" x2="54.92" y2="266.70" stroke="#000" stroke-width="1"/>
<line x1="69.47" y1="265.10" x2="69.47" y2="266.70" stroke="#000" stroke-width="1"/>
<line x1="76.75" y1="265.10" x2="76.75" y2="266.70" stroke="#000" stroke-width="1"/>
<line x1="84.03" y1="265.10" x2="84.03" y2="266.70" stroke="#000" stroke-width="1"/>
<line x1="98.58" y1="265.10" x2="98.58" y2="266.70" stroke="#000" stroke-width="1"/>
<line x1="105.85" y1="265.10" x2="105.85" y2="266.70" stroke="#000" stroke-width="1"/>
<line x1="113.13" y1="265.10" x2="113.13" y2="266.70" stroke="#000" stroke-width="1"/>
<line x1="127.68" y1="265.10" x2="127.68" y2="266.70" stroke="#000" stroke-width="1"/>
<line x1="134.95" y1="265.10" x2="134.95" y2="266.70" stroke="#000" stroke-width="1"/>
<line x1="142.23" y1="265.10" x2="142.23" y2="266.70" stroke="#000" stroke-width="1"/>
<line x1="156.78" y1="265.10" x2="156.78" y2="266.70" stroke="#000" stroke-width="1"/>
<text x="7.15" y="257.25" font-size="9.15" textLength="73.75" lengthAdjust="spacingAndGlyphs" transform="rotate(-90 7.15 257.25)" fill="#000">Ratio: Indo-1 lo-A/</text>
<text x="18.15" y="244.27" font-size="9.40" textLength="45.99" lengthAdjust="spacingAndGlyphs" transform="rotate(-90 18.15 244.27)" fill="#000">Indo-1 hi-A</text>
<text x="78.60" y="289.50" font-size="9.00" textLength="20.00" lengthAdjust="spacingAndGlyphs" fill="#000">Time</text>
<text x="130.05" y="186.20" font-size="11.13" textLength="26.59" lengthAdjust="spacingAndGlyphs" fill="#000">T cell</text>
<text x="46.07" y="222.50" font-size="10.94" textLength="42.26" lengthAdjust="spacingAndGlyphs" fill="#000">+/-Bay K</text>
<line x1="56.00" y1="226.00" x2="56.00" y2="243.70" stroke="#000" stroke-width="1"/>
<polygon points="56.00,249.00 53.50,243.20 58.50,243.20" fill="#000"/>
<polyline points="33.0,251.0 34.8,251.2 36.5,251.1 38.2,250.9 40.0,250.5 41.8,250.3 43.5,250.7 45.2,250.7 47.0,250.8 48.7,250.7 50.3,250.3 52.0,250.5 54.0,250.1 56.0,250.2 58.0,250.0 60.0,251.5 61.0,252.7 62.0,254.0 64.0,255.2 65.5,255.0 67.0,255.1 68.5,254.7 70.0,255.0 71.7,254.6 73.3,255.0 75.0,254.7 76.7,254.7 78.3,254.7 80.0,254.5 81.7,254.3 83.3,253.9 85.0,254.2 86.7,254.0 88.3,253.9 90.0,253.6 91.7,253.5 93.3,253.5 95.0,252.9 96.7,252.9 98.3,252.4 100.0,252.3 101.7,252.3 103.3,252.3 105.0,252.0 106.7,251.8 108.3,252.0 110.0,252.0 111.7,252.0 113.3,251.8 115.0,251.6 116.7,251.6 118.3,251.2 120.0,251.3 121.7,251.0 123.3,251.0 125.0,251.3 126.7,250.8 128.3,250.6 130.0,250.8 131.5,250.3 133.0,250.1 134.5,250.0 136.0,250.0 138.0,249.9 140.0,249.7 141.5,250.4 143.0,250.6 145.5,250.4 147.5,249.3" fill="none" stroke="#000" stroke-width="1.8" stroke-linejoin="round" stroke-linecap="round"/>
<line x1="206.60" y1="171.00" x2="335.70" y2="171.00" stroke="#383838" stroke-width="1"/>
<line x1="335.70" y1="171.00" x2="335.70" y2="264.10" stroke="#383838" stroke-width="1"/>
<line x1="206.60" y1="170.50" x2="206.60" y2="267.10" stroke="#000" stroke-width="1"/>
<line x1="206.10" y1="264.10" x2="336.20" y2="264.10" stroke="#000" stroke-width="1"/>
<line x1="204.30" y1="195.10" x2="206.60" y2="195.10" stroke="#000" stroke-width="1"/>
<text x="205.09" y="197.93" font-size="8.40" text-anchor="end" fill="#000" class="t" textLength="12.51" lengthAdjust="spacingAndGlyphs">500</text>
<line x1="204.30" y1="226.30" x2="206.60" y2="226.30" stroke="#000" stroke-width="1"/>
<text x="205.09" y="229.13" font-size="8.40" text-anchor="end" fill="#000" class="t" textLength="12.51" lengthAdjust="spacingAndGlyphs">400</text>
<line x1="204.30" y1="255.80" x2="206.60" y2="255.80" stroke="#000" stroke-width="1"/>
<text x="205.09" y="258.63" font-size="8.40" text-anchor="end" fill="#000" class="t" textLength="12.51" lengthAdjust="spacingAndGlyphs">300</text>
<line x1="206.70" y1="264.10" x2="206.70" y2="267.10" stroke="#000" stroke-width="1"/>
<text x="207.80" y="279.60" font-size="8.40" text-anchor="middle" fill="#000" class="t" textLength="4.23" lengthAdjust="spacingAndGlyphs">0</text>
<line x1="236.40" y1="264.10" x2="236.40" y2="267.10" stroke="#000" stroke-width="1"/>
<text x="239.70" y="279.60" font-size="8.40" text-anchor="middle" fill="#000" class="t" textLength="12.68" lengthAdjust="spacingAndGlyphs">100</text>
<line x1="266.20" y1="264.10" x2="266.20" y2="267.10" stroke="#000" stroke-width="1"/>
<text x="269.50" y="279.60" font-size="8.40" text-anchor="middle" fill="#000" class="t" textLength="12.68" lengthAdjust="spacingAndGlyphs">200</text>
<line x1="296.10" y1="264.10" x2="296.10" y2="267.10" stroke="#000" stroke-width="1"/>
<text x="299.60" y="279.60" font-size="8.40" text-anchor="middle" fill="#000" class="t" textLength="12.68" lengthAdjust="spacingAndGlyphs">300</text>
<line x1="325.90" y1="264.10" x2="325.90" y2="267.10" stroke="#000" stroke-width="1"/>
<text x="329.20" y="279.60" font-size="8.40" text-anchor="middle" fill="#000" class="t" textLength="12.68" lengthAdjust="spacingAndGlyphs">400</text>
<line x1="214.12" y1="264.10" x2="214.12" y2="265.70" stroke="#000" stroke-width="1"/>
<line x1="221.55" y1="264.10" x2="221.55" y2="265.70" stroke="#000" stroke-width="1"/>
<line x1="228.98" y1="264.10" x2="228.98" y2="265.70" stroke="#000" stroke-width="1"/>
<line x1="243.83" y1="264.10" x2="243.83" y2="265.70" stroke="#000" stroke-width="1"/>
<line x1="251.25" y1="264.10" x2="251.25" y2="265.70" stroke="#000" stroke-width="1"/>
<line x1="258.68" y1="264.10" x2="258.68" y2="265.70" stroke="#000" stroke-width="1"/>
<line x1="273.53" y1="264.10" x2="273.53" y2="265.70" stroke="#000" stroke-width="1"/>
<line x1="280.95" y1="264.10" x2="280.95" y2="265.70" stroke="#000" stroke-width="1"/>
<line x1="288.38" y1="264.10" x2="288.38" y2="265.70" stroke="#000" stroke-width="1"/>
<line x1="303.23" y1="264.10" x2="303.23" y2="265.70" stroke="#000" stroke-width="1"/>
<line x1="310.65" y1="264.10" x2="310.65" y2="265.70" stroke="#000" stroke-width="1"/>
<line x1="318.08" y1="264.10" x2="318.08" y2="265.70" stroke="#000" stroke-width="1"/>
<line x1="332.93" y1="264.10" x2="332.93" y2="265.70" stroke="#000" stroke-width="1"/>
<text x="177.55" y="256.45" font-size="9.16" textLength="73.85" lengthAdjust="spacingAndGlyphs" transform="rotate(-90 177.55 256.45)" fill="#000">Ratio: Indo-1 lo-A/</text>
<text x="188.35" y="242.57" font-size="9.40" textLength="45.99" lengthAdjust="spacingAndGlyphs" transform="rotate(-90 188.35 242.57)" fill="#000">Indo-1 hi-A</text>
<text x="268.31" y="288.70" font-size="8.58" textLength="19.07" lengthAdjust="spacingAndGlyphs" fill="#000">Time</text>
<text x="215.13" y="184.90" font-size="10.89" textLength="29.65" lengthAdjust="spacingAndGlyphs" fill="#000">Jurkat</text>
<text x="208.87" y="209.00" font-size="10.81" textLength="41.75" lengthAdjust="spacingAndGlyphs" fill="#000">+/-Bay K</text>
<line x1="231.00" y1="211.00" x2="231.00" y2="237.50" stroke="#000" stroke-width="1"/>
<polygon points="231.00,242.80 228.50,237.00 233.50,237.00" fill="#000"/>
<text x="301.78" y="184.90" font-size="10.73" textLength="36.00" lengthAdjust="spacingAndGlyphs" fill="#000">100 <tspan dx="-1.2" fill="#3a3a3a">µ</tspan><tspan dx="1.2">M</tspan></text>
<text x="285.94" y="209.20" font-size="11.17" textLength="37.48" lengthAdjust="spacingAndGlyphs" fill="#000">200 <tspan dx="-1.2" fill="#3a3a3a">µ</tspan><tspan dx="1.2">M</tspan></text>
<text x="292.78" y="230.00" font-size="10.94" textLength="36.71" lengthAdjust="spacingAndGlyphs" fill="#000">300 <tspan dx="-1.2" fill="#3a3a3a">µ</tspan><tspan dx="1.2">M</tspan></text>
<line x1="323.50" y1="186.00" x2="319.66" y2="190.73" stroke="#000" stroke-width="1"/>
<polygon points="316.20,195.00 318.12,188.83 321.84,191.85" fill="#000"/>
<line x1="290.20" y1="211.20" x2="285.17" y2="217.11" stroke="#000" stroke-width="1"/>
<polygon points="281.60,221.30 283.66,215.18 287.32,218.29" fill="#000"/>
<line x1="294.00" y1="230.60" x2="288.98" y2="235.91" stroke="#000" stroke-width="1"/>
<polygon points="285.20,239.90 287.58,233.89 291.07,237.19" fill="#000"/>
<polyline points="206.7,249.5 208.3,249.6 209.8,249.6 211.4,249.2 212.9,249.7 214.5,249.1 216.0,249.4 217.6,249.0 219.1,249.4 220.7,249.0 222.2,249.3 223.8,249.3 225.3,249.3 226.9,249.0 228.4,249.3 230.0,249.0 231.5,249.0 232.9,248.1 234.4,248.0 235.3,246.6 236.2,245.4 237.1,243.8 237.9,242.2 238.8,240.6 239.7,239.3 240.5,238.2 241.4,236.3 242.2,235.3 243.0,233.9 243.8,232.1 244.7,230.8 245.5,229.5 246.4,228.1 247.3,227.0 248.2,225.7 249.1,224.7 250.0,223.5 250.9,222.0 251.7,220.5 252.4,219.4 253.2,217.4 253.9,216.0 254.6,214.9 255.4,213.6 256.1,212.1 256.9,210.5 257.9,209.5 258.9,208.1 259.9,206.4 260.8,205.4 261.8,204.2 262.8,202.4 263.8,201.3 264.9,200.0 266.1,198.5 267.2,197.2 268.4,196.2 269.6,195.0 270.7,193.6 272.1,193.0 273.5,191.6 274.8,191.0 276.2,190.4 277.6,189.2 279.0,188.7 280.4,188.0 281.7,187.2 283.1,186.8 284.5,186.1 286.2,185.5 287.9,185.3 289.7,184.9 291.4,184.4 293.1,184.1 294.9,184.1 296.6,183.7 298.3,184.6 300.0,185.7 301.7,186.7 303.0,188.0 304.3,188.7 305.6,189.7 306.9,191.0 308.6,191.9 310.4,192.7 312.1,193.6 314.2,194.2 316.4,194.4" fill="none" stroke="#555" stroke-width="1.1" stroke-linejoin="round" stroke-linecap="round"/>
<polyline points="206.7,250.9 208.3,250.8 209.8,251.1 211.4,251.0 212.9,250.6 214.5,251.0 216.0,250.8 217.6,250.4 219.1,251.0 220.7,250.5 222.2,250.5 223.8,250.6 225.3,250.6 226.9,250.3 228.4,250.6 230.0,250.5 231.8,250.2 233.6,249.5 235.0,248.6 236.4,248.0 237.7,247.0 239.1,246.3 240.5,245.2 242.0,244.1 243.4,243.4 244.9,242.6 246.4,241.5 247.9,241.1 249.3,240.1 250.8,239.1 252.3,238.1 253.8,237.7 255.3,236.9 256.7,236.0 258.2,235.3 259.7,234.7 261.2,234.0 262.4,232.9 263.7,232.3 264.9,231.4 266.1,230.3 267.3,229.9 268.6,228.5 269.8,227.9 271.1,226.9 272.5,226.4 273.8,225.2 275.1,224.5 276.5,223.7 277.8,222.8 279.3,222.3 280.9,221.9 282.4,221.4 284.0,220.9 285.5,220.5 287.1,219.9 288.6,219.9 290.2,219.2 291.7,218.7 293.3,218.6 294.8,218.5 296.4,218.6 297.9,218.4 299.5,218.3 301.0,218.2 302.6,218.2 304.1,218.0 305.7,218.3 307.2,218.1 308.8,218.2 310.5,218.1 312.2,218.4 314.0,218.6 315.7,219.0" fill="none" stroke="#555" stroke-width="1.1" stroke-linejoin="round" stroke-linecap="round"/>
<polyline points="206.7,251.8 208.3,251.9 209.8,251.6 211.4,251.5 213.0,251.8 214.6,251.4 216.2,251.8 217.7,251.8 219.3,251.3 220.9,251.7 222.4,251.6 224.0,251.6 225.6,251.8 227.2,251.8 228.8,251.4 230.3,251.6 231.9,251.4 234.4,252.9 235.9,252.6 237.4,252.3 239.0,251.3 240.5,251.2 242.0,251.1 243.6,250.3 245.1,249.8 246.6,249.7 248.2,249.5 249.7,249.2 251.2,248.5 252.8,248.4 254.3,247.8 255.8,247.1 257.3,247.2 258.8,246.4 260.3,246.1 261.8,245.4 263.3,244.9 264.8,244.4 266.3,244.3 267.9,244.0 269.6,243.6 271.2,243.4 272.8,243.1 274.4,242.4 276.1,242.3 277.7,241.6 279.3,241.4 280.9,241.4 282.4,240.8 284.0,240.9 285.5,240.3 287.1,240.1 288.6,239.9 290.2,239.6 291.7,239.1 293.2,238.8 294.8,238.9 296.3,238.7 297.9,238.3 299.5,238.0 301.0,238.1 302.6,238.1 304.1,238.2 305.7,238.3 307.2,237.7 308.8,237.9 310.5,238.1 312.2,238.0 313.9,238.6 315.6,238.9 317.3,238.8" fill="none" stroke="#555" stroke-width="1.1" stroke-linejoin="round" stroke-linecap="round"/>
<polyline points="206.7,247.2 208.3,247.3 209.9,247.3 211.4,247.5 213.0,247.0 214.6,247.2 216.3,246.7 218.0,246.9 219.8,246.4 221.5,246.2 223.2,246.0 224.9,246.1 226.7,245.5 228.4,245.6 229.9,245.0 231.4,243.9 232.9,243.0 233.8,241.2 234.6,240.3 235.5,238.5 236.2,237.0 236.9,235.1 237.6,234.1 238.3,232.5 239.0,230.9 239.7,229.2 240.4,227.7 241.0,226.3 241.7,223.9 242.3,223.0 243.0,221.0 243.7,219.6 244.4,217.8 245.0,216.6 245.7,214.9 246.4,213.5 247.3,212.1 248.2,210.6 249.1,209.0 250.0,207.5 250.8,205.7 251.6,204.4 252.3,202.9 253.1,201.5 254.4,200.5 255.6,199.4 256.9,197.9 258.0,197.1 259.2,195.9 260.4,194.6 261.5,194.0 262.6,192.7 263.8,191.8 265.2,191.1 266.6,189.5 267.9,189.1 269.3,187.4 270.7,186.7 272.1,186.2 273.5,185.2 274.8,184.7 276.2,183.8 277.6,183.2 279.3,182.5 281.1,182.1 282.8,181.8 284.5,181.0 286.2,180.5 287.9,180.2 289.7,180.1 291.4,179.6 293.1,179.0 294.8,178.8 296.6,179.3 298.3,180.0 300.5,181.5 301.6,182.5 302.8,183.5 303.9,184.7 304.9,185.7 306.0,187.2 307.0,188.7 308.1,189.9 309.1,191.2 310.2,192.3 311.2,194.0 312.3,195.5 313.4,196.7 314.4,198.3 315.5,199.9 316.6,201.2 317.6,203.0" fill="none" stroke="#000" stroke-width="2" stroke-linejoin="round" stroke-linecap="round"/>
<line x1="388.30" y1="170.30" x2="519.30" y2="170.30" stroke="#383838" stroke-width="1"/>
<line x1="519.30" y1="170.30" x2="519.30" y2="264.40" stroke="#000" stroke-width="1.5"/>
<line x1="388.30" y1="169.80" x2="388.30" y2="267.40" stroke="#000" stroke-width="1"/>
<line x1="387.80" y1="264.40" x2="519.80" y2="264.40" stroke="#000" stroke-width="1"/>
<line x1="386.00" y1="189.60" x2="388.30" y2="189.60" stroke="#000" stroke-width="1"/>
<text x="385.60" y="192.93" font-size="8.40" text-anchor="end" fill="#000" class="t" textLength="12.84" lengthAdjust="spacingAndGlyphs">500</text>
<line x1="386.00" y1="214.30" x2="388.30" y2="214.30" stroke="#000" stroke-width="1"/>
<text x="385.60" y="217.63" font-size="8.40" text-anchor="end" fill="#000" class="t" textLength="12.84" lengthAdjust="spacingAndGlyphs">400</text>
<line x1="386.00" y1="239.20" x2="388.30" y2="239.20" stroke="#000" stroke-width="1"/>
<text x="385.60" y="242.53" font-size="8.40" text-anchor="end" fill="#000" class="t" textLength="12.84" lengthAdjust="spacingAndGlyphs">300</text>
<line x1="386.00" y1="263.80" x2="388.30" y2="263.80" stroke="#000" stroke-width="1"/>
<text x="385.60" y="267.13" font-size="8.40" text-anchor="end" fill="#000" class="t" textLength="12.84" lengthAdjust="spacingAndGlyphs">200</text>
<line x1="388.30" y1="264.40" x2="388.30" y2="267.40" stroke="#000" stroke-width="1"/>
<text x="389.20" y="278.60" font-size="8.40" text-anchor="middle" fill="#000" class="t" textLength="4.11" lengthAdjust="spacingAndGlyphs">0</text>
<line x1="416.30" y1="264.40" x2="416.30" y2="267.40" stroke="#000" stroke-width="1"/>
<text x="419.70" y="278.60" font-size="8.40" text-anchor="middle" fill="#000" class="t" textLength="12.34" lengthAdjust="spacingAndGlyphs">100</text>
<line x1="444.60" y1="264.40" x2="444.60" y2="267.40" stroke="#000" stroke-width="1"/>
<text x="447.80" y="278.60" font-size="8.40" text-anchor="middle" fill="#000" class="t" textLength="12.34" lengthAdjust="spacingAndGlyphs">200</text>
<line x1="473.60" y1="264.40" x2="473.60" y2="267.40" stroke="#000" stroke-width="1"/>
<text x="476.40" y="278.60" font-size="8.40" text-anchor="middle" fill="#000" class="t" textLength="12.34" lengthAdjust="spacingAndGlyphs">300</text>
<line x1="501.80" y1="264.40" x2="501.80" y2="267.40" stroke="#000" stroke-width="1"/>
<text x="504.90" y="278.60" font-size="8.40" text-anchor="middle" fill="#000" class="t" textLength="12.34" lengthAdjust="spacingAndGlyphs">400</text>
<line x1="395.30" y1="264.40" x2="395.30" y2="266.00" stroke="#000" stroke-width="1"/>
<line x1="402.30" y1="264.40" x2="402.30" y2="266.00" stroke="#000" stroke-width="1"/>
<line x1="409.30" y1="264.40" x2="409.30" y2="266.00" stroke="#000" stroke-width="1"/>
<line x1="423.30" y1="264.40" x2="423.30" y2="266.00" stroke="#000" stroke-width="1"/>
<line x1="430.30" y1="264.40" x2="430.30" y2="266.00" stroke="#000" stroke-width="1"/>
<line x1="437.30" y1="264.40" x2="437.30" y2="266.00" stroke="#000" stroke-width="1"/>
<line x1="451.30" y1="264.40" x2="451.30" y2="266.00" stroke="#000" stroke-width="1"/>
<line x1="458.30" y1="264.40" x2="458.30" y2="266.00" stroke="#000" stroke-width="1"/>
<line x1="465.30" y1="264.40" x2="465.30" y2="266.00" stroke="#000" stroke-width="1"/>
<line x1="472.30" y1="264.40" x2="472.30" y2="266.00" stroke="#000" stroke-width="1"/>
<line x1="479.30" y1="264.40" x2="479.30" y2="266.00" stroke="#000" stroke-width="1"/>
<line x1="486.30" y1="264.40" x2="486.30" y2="266.00" stroke="#000" stroke-width="1"/>
<line x1="493.30" y1="264.40" x2="493.30" y2="266.00" stroke="#000" stroke-width="1"/>
<line x1="500.30" y1="264.40" x2="500.30" y2="266.00" stroke="#000" stroke-width="1"/>
<line x1="507.30" y1="264.40" x2="507.30" y2="266.00" stroke="#000" stroke-width="1"/>
<line x1="514.30" y1="264.40" x2="514.30" y2="266.00" stroke="#000" stroke-width="1"/>
<text x="357.65" y="263.96" font-size="9.21" textLength="74.26" lengthAdjust="spacingAndGlyphs" transform="rotate(-90 357.65 263.96)" fill="#000">Ratio: Indo-1 lo-A/</text>
<text x="368.25" y="250.86" font-size="9.34" textLength="45.68" lengthAdjust="spacingAndGlyphs" transform="rotate(-90 368.25 250.86)" fill="#000">Indo-1 hi-A</text>
<text x="450.10" y="287.80" font-size="8.82" textLength="19.59" lengthAdjust="spacingAndGlyphs" fill="#000">Time</text>
<text x="397.43" y="184.80" font-size="11.20" textLength="24.89" lengthAdjust="spacingAndGlyphs" fill="#000">CEM</text>
<text x="395.94" y="214.40" font-size="11.44" textLength="44.19" lengthAdjust="spacingAndGlyphs" fill="#000">+/-Bay K</text>
<line x1="408.40" y1="219.00" x2="408.40" y2="236.50" stroke="#000" stroke-width="1"/>
<polygon points="408.40,241.80 405.90,236.00 410.90,236.00" fill="#000"/>
<text x="450.87" y="217.00" font-size="10.92" textLength="36.63" lengthAdjust="spacingAndGlyphs" fill="#000">100 <tspan dx="-1.2" fill="#3a3a3a">µ</tspan><tspan dx="1.2">M</tspan></text>
<text x="462.14" y="233.20" font-size="11.17" textLength="37.48" lengthAdjust="spacingAndGlyphs" fill="#000">200 <tspan dx="-1.2" fill="#3a3a3a">µ</tspan><tspan dx="1.2">M</tspan></text>
<text x="473.28" y="255.80" font-size="11.13" textLength="37.34" lengthAdjust="spacingAndGlyphs" fill="#000">300 <tspan dx="-1.2" fill="#3a3a3a">µ</tspan><tspan dx="1.2">M</tspan></text>
<line x1="447.90" y1="217.60" x2="443.34" y2="222.77" stroke="#000" stroke-width="1"/>
<polygon points="439.70,226.90 441.87,220.81 445.47,223.99" fill="#000"/>
<line x1="460.30" y1="231.00" x2="456.32" y2="235.56" stroke="#000" stroke-width="1"/>
<polygon points="452.70,239.70 454.84,233.60 458.45,236.76" fill="#000"/>
<line x1="470.70" y1="251.70" x2="465.10" y2="248.58" stroke="#000" stroke-width="1"/>
<polygon points="460.30,245.90 466.71,246.73 464.37,250.92" fill="#000"/>
<polyline points="388.3,249.1 389.9,248.7 391.4,248.5 393.0,248.5 394.6,248.1 396.1,247.8 397.7,247.8 399.3,247.6 400.9,247.3 402.4,247.2 404.0,247.2 405.6,246.6 407.1,246.4 408.7,246.4 410.4,245.8 412.1,245.7 413.6,244.8 415.0,244.0 416.5,243.8 417.9,242.7 419.4,242.1 420.6,241.4 421.8,239.8 423.0,239.3 424.2,238.0 425.4,237.1 426.6,236.0 428.0,235.3 429.4,234.3 430.8,233.5 432.1,233.0 433.5,231.9 434.9,231.0 436.3,230.5 437.7,229.9 439.0,229.2 440.4,228.2 441.8,227.7 443.2,227.2 444.5,226.1 445.9,225.5 447.4,224.8 448.9,224.5 450.4,223.9 451.9,223.6 453.5,222.9 455.0,222.9 456.5,222.4 458.0,221.8 459.5,221.6 461.0,221.4 462.5,221.2 464.0,221.4 465.5,221.2 467.0,220.9 468.5,220.5 470.0,220.5 471.7,220.2 473.3,220.5 475.0,220.1 476.7,220.3 478.3,220.0 480.0,220.0 481.7,219.6 483.3,219.6 485.0,219.9 486.7,219.4 488.3,219.5 490.0,219.3 491.5,219.4 493.0,219.1 494.5,219.0 496.0,219.2 497.5,219.0 499.0,218.8" fill="none" stroke="#555" stroke-width="1.1" stroke-linejoin="round" stroke-linecap="round"/>
<polyline points="388.3,250.5 389.8,250.7 391.4,250.8 392.9,251.3 394.4,251.2 395.9,251.5 397.5,251.6 399.0,251.9 400.6,251.8 402.2,252.2 403.8,251.7 405.3,251.9 406.9,251.7 408.5,251.8 410.1,251.9 411.9,252.7 413.8,252.7 415.6,253.3 417.3,253.0 419.1,252.6 420.8,252.4 422.5,251.9 424.2,251.3 425.9,250.7 427.7,250.3 429.4,249.8 431.1,249.2 432.9,249.0 434.6,248.3 436.3,247.8 438.0,246.9 439.8,246.5 441.5,245.6 443.2,245.0 444.9,244.6 446.5,244.0 448.1,243.6 449.8,243.4 451.5,242.8 453.1,242.4 454.8,241.9 456.4,241.3 458.1,240.6 459.7,240.0 461.4,239.3 463.1,239.1 464.8,239.1 466.6,239.0 468.3,238.4 470.0,238.5 471.7,238.7 473.3,238.4 475.0,238.2 476.7,238.2 478.3,238.2 480.0,238.3 481.7,237.8 483.3,237.8 485.0,237.6 486.7,237.5 488.3,237.2 490.0,237.0 491.5,237.0 493.0,236.6 494.5,236.1 496.0,236.2 497.5,235.8 499.0,235.4" fill="none" stroke="#555" stroke-width="1.1" stroke-linejoin="round" stroke-linecap="round"/>
<polyline points="388.3,252.6 389.8,252.8 391.4,252.7 392.9,252.7 394.4,253.2 395.9,253.1 397.5,253.2 399.0,253.5 400.6,253.4 402.1,253.4 403.7,253.6 405.3,253.2 406.9,253.4 408.4,253.4 410.0,253.0 411.7,253.1 413.3,253.2 415.0,253.5 416.7,254.2 418.3,254.3 420.0,254.5 421.7,254.3 423.3,253.9 425.0,253.3 426.7,252.9 428.3,252.2 430.0,252.0 431.7,251.2 433.3,251.2 435.0,250.6 436.7,250.2 438.3,249.5 440.0,249.0 441.4,248.6 442.9,248.1 444.3,247.7 445.7,246.8 447.1,246.5 448.6,245.9 450.0,245.5 451.4,245.1 452.9,244.6 454.3,243.6 455.7,243.0 457.1,242.5 458.6,242.0 460.0,241.5 461.7,241.3 463.3,240.8 465.0,240.6 466.7,240.0 468.3,239.8 470.0,239.5 471.7,238.9 473.3,238.8 475.0,238.3 476.7,238.1 478.3,237.7 480.0,237.0 481.7,237.2 483.3,237.1 485.0,237.8 486.7,237.9 488.3,237.8 490.0,238.0 491.5,237.7 493.0,237.8 494.5,237.1 496.0,236.9 497.5,236.9 499.0,236.5" fill="none" stroke="#555" stroke-width="1.1" stroke-linejoin="round" stroke-linecap="round"/>
<polyline points="388.3,248.1 389.9,247.9 391.6,247.7 393.2,247.5 394.9,247.3 396.6,247.1 398.4,246.9 400.1,246.7 401.9,246.2 403.7,245.6 405.5,245.1 407.3,244.6 408.9,244.1 410.5,243.7 412.1,243.2 413.3,242.3 414.6,241.4 415.8,240.6 417.0,239.7 418.2,238.3 419.3,236.9 420.5,235.5 421.7,234.2 423.0,232.8 424.2,231.5 425.4,230.2 426.6,229.0 427.8,228.5 429.0,226.8 430.2,226.3 431.4,225.2 432.6,223.9 433.9,222.5 435.1,221.9 436.3,220.8 437.5,218.9 438.7,218.0 439.9,216.2 441.1,215.3 442.3,213.7 443.5,212.9 444.7,212.2 445.9,210.7 447.5,209.5 449.2,208.8 450.8,208.4 452.6,208.1 454.4,208.0 456.2,207.1 458.0,206.6 459.8,206.3 461.5,206.9 463.2,205.6 465.0,206.0 466.7,206.4 468.3,205.7 470.0,205.5 471.7,205.4 473.3,205.6 475.0,205.8 476.7,206.2 478.3,205.5 480.0,206.0 481.7,206.1 483.3,205.8 485.0,206.0 486.8,206.2 488.5,205.7 490.2,205.8 492.0,206.5 493.8,206.6 495.5,207.6 497.2,207.9 499.0,208.3" fill="none" stroke="#000" stroke-width="2" stroke-linejoin="round" stroke-linecap="round"/>
</svg></body></html>
